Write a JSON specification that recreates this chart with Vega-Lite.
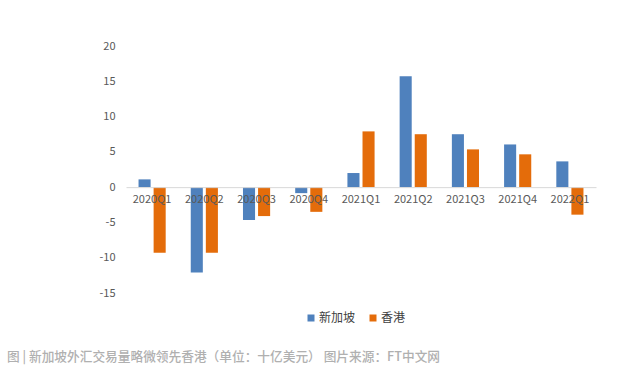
{
  "$schema": "https://vega.github.io/schema/vega-lite/v6.json",
  "autosize": {"type": "none"},
  "padding": {"left": 126, "top": 46, "right": 44, "bottom": 78},
  "width": 470,
  "height": 247,
  "background": "white",
  "config": {
    "view": {"stroke": null},
    "font": "Noto Sans CJK SC"
  },
  "title": {
    "text": "图 | 新加坡外汇交易量略微领先香港（单位：十亿美元） 图片来源：FT中文网",
    "orient": "bottom",
    "anchor": "start",
    "frame": "group",
    "dx": -119,
    "offset": 27,
    "fontSize": 12.7,
    "fontWeight": 500,
    "color": "#b0b0b0",
    "font": "Noto Sans CJK SC"
  },
  "data": {
    "values": [
      {"quarter": "2020Q1", "region": "新加坡", "value": 1.1},
      {"quarter": "2020Q1", "region": "香港", "value": -9.3},
      {"quarter": "2020Q2", "region": "新加坡", "value": -12.1},
      {"quarter": "2020Q2", "region": "香港", "value": -9.3},
      {"quarter": "2020Q3", "region": "新加坡", "value": -4.65},
      {"quarter": "2020Q3", "region": "香港", "value": -4.1},
      {"quarter": "2020Q4", "region": "新加坡", "value": -0.85},
      {"quarter": "2020Q4", "region": "香港", "value": -3.5},
      {"quarter": "2021Q1", "region": "新加坡", "value": 2.0},
      {"quarter": "2021Q1", "region": "香港", "value": 7.9},
      {"quarter": "2021Q2", "region": "新加坡", "value": 15.7},
      {"quarter": "2021Q2", "region": "香港", "value": 7.5},
      {"quarter": "2021Q3", "region": "新加坡", "value": 7.5},
      {"quarter": "2021Q3", "region": "香港", "value": 5.35},
      {"quarter": "2021Q4", "region": "新加坡", "value": 6.05},
      {"quarter": "2021Q4", "region": "香港", "value": 4.65},
      {"quarter": "2022Q1", "region": "新加坡", "value": 3.65},
      {"quarter": "2022Q1", "region": "香港", "value": -3.9}
    ]
  },
  "mark": {"type": "bar"},
  "encoding": {
    "x": {
      "field": "quarter",
      "type": "nominal",
      "sort": null,
      "scale": {"paddingInner": 0.48, "paddingOuter": 0.24},
      "axis": {
        "title": null,
        "orient": "bottom",
        "offset": -105.86,
        "domainColor": "#d9d9d9",
        "domainWidth": 1,
        "ticks": false,
        "labelPadding": 6,
        "labelAngle": 0,
        "labelColor": "#595959",
        "labelFontSize": 11,
        "labelFont": "Noto Sans CJK SC",
        "zindex": 1
      }
    },
    "xOffset": {
      "field": "region",
      "type": "nominal",
      "sort": ["新加坡", "香港"],
      "scale": {"paddingInner": 0.2, "paddingOuter": 0}
    },
    "y": {
      "field": "value",
      "type": "quantitative",
      "scale": {"domain": [-15, 20], "nice": false, "zero": true},
      "axis": {
        "title": null,
        "values": [-15, -10, -5, 0, 5, 10, 15, 20],
        "labelExpr": "datum.value < 0 ? '-' + abs(datum.value) : '' + datum.value",
        "domain": false,
        "ticks": false,
        "grid": false,
        "labelPadding": 11,
        "labelColor": "#595959",
        "labelFontSize": 11,
        "labelFont": "Noto Sans CJK SC"
      }
    },
    "color": {
      "field": "region",
      "type": "nominal",
      "sort": ["新加坡", "香港"],
      "scale": {"domain": ["新加坡", "香港"], "range": ["#4f81bd", "#e46c0a"]},
      "legend": {
        "title": null,
        "orient": "none",
        "direction": "horizontal",
        "legendX": 179,
        "legendY": 266,
        "symbolType": "square",
        "symbolSize": 49,
        "symbolStrokeWidth": 0,
        "labelFontSize": 12,
        "labelColor": "#404040",
        "labelFont": "Noto Sans CJK SC",
        "labelOffset": 2,
        "columnPadding": 11
      }
    }
  }
}
